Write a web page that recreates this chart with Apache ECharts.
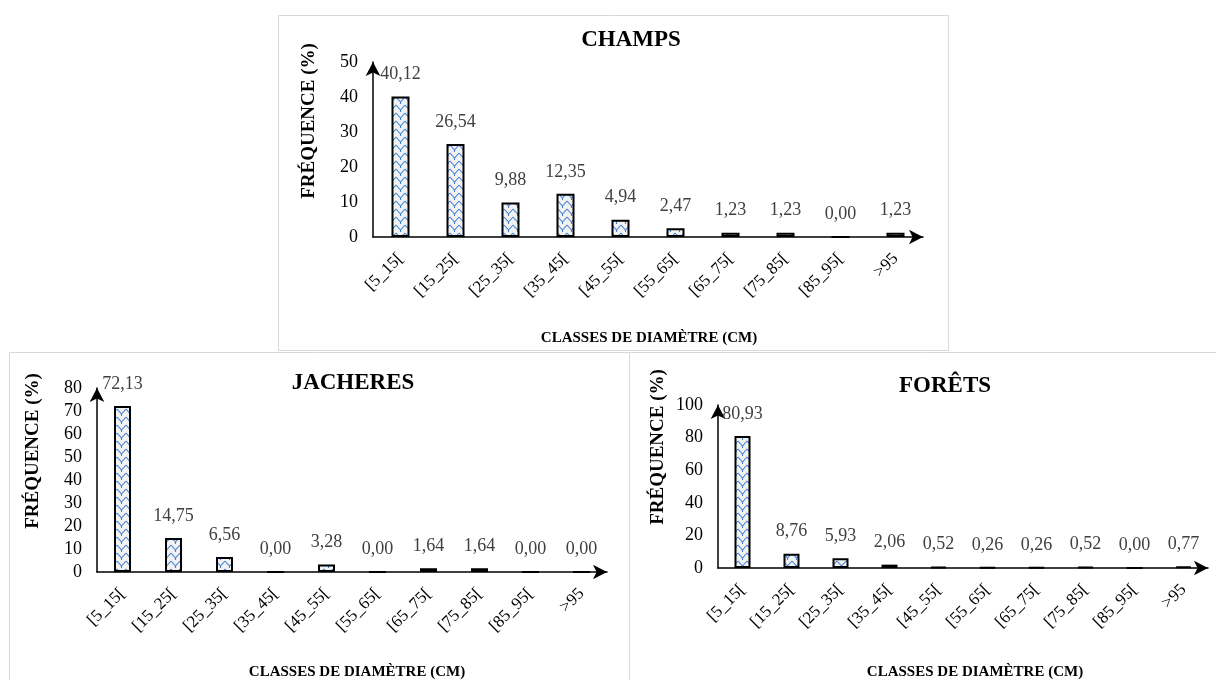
<!DOCTYPE html>
<html>
<head>
<meta charset="utf-8">
<script src="https://cdn.jsdelivr.net/npm/echarts@6/dist/echarts.min.js"></script>
<style>
  html, body { margin: 0; padding: 0; background: #ffffff; }
  #chart { width: 1216px; height: 680px; }
</style>
</head>
<body>
<div id="chart"></div>
<script>
// Diameter classes shared by the three panels
const classes = ['[5_15[', '[15_25[', '[25_35[', '[35_45[', '[45_55[', '[55_65[', '[65_75[', '[75_85[', '[85_95[', '>95'];

// Frequency (%) per diameter class
const champs   = [40.12, 26.54, 9.88, 12.35, 4.94, 2.47, 1.23, 1.23, 0.00, 1.23];
const jacheres = [72.13, 14.75, 6.56, 0.00, 3.28, 0.00, 1.64, 1.64, 0.00, 0.00];
const forets   = [80.93, 8.76, 5.93, 2.06, 0.52, 0.26, 0.26, 0.52, 0.00, 0.77];

const panelTitles = ['CHAMPS', 'JACHERES', 'FORÊTS'];
const yTitle = 'FRÉQUENCE (%)';
const xTitle = 'CLASSES DE DIAMÈTRE (CM)';

const FONT = '"Liberation Serif", "DejaVu Serif", serif';

// Light grey fill with a blue zigzag hatch
function hatch() {
  const c = document.createElement('canvas');
  c.width = 9; c.height = 8;
  const g = c.getContext('2d');
  g.fillStyle = '#f2f2f2';
  g.fillRect(0, 0, 9, 8);
  g.strokeStyle = '#3f7fd6';
  g.lineWidth = 1.1;
  g.beginPath();
  g.moveTo(0, 1);
  g.lineTo(4.5, 6);
  g.lineTo(9, 1);
  g.moveTo(4.5, 6);
  g.lineTo(4.5, 8);
  g.stroke();
  return { image: c, repeat: 'repeat' };
}
const fill = hatch();

// Panel layout
const grids = [
  { left: 373, top: 62, width: 550, height: 175 },
  { left: 97, top: 388, width: 510, height: 184 },
  { left: 718, top: 405, width: 490, height: 163 }
];
const yMax = [50, 80, 100];
const yStep = [10, 10, 20];
const barW = [18, 17, 16];
const dataSets = [champs, jacheres, forets];

// Text anchors for titles and axis names: [x, y] centres
const titlePos = [[631, 40], [353, 383], [945, 386]];
const yNamePos = [[309, 121], [33, 451], [658, 447]];
const xNamePos = [[649, 338], [357, 672], [975, 672]];

const axisLine = {
  show: true,
  symbol: ['none', 'arrow'],
  symbolSize: [11, 14],
  lineStyle: { color: '#000', width: 1.5 }
};

const panels = [
  [278.5, 15.5, 670, 335],
  [9.5, 352.5, 620, 340],
  [629.5, 352.5, 600, 340]
];

const graphics = [];
panels.forEach(p => graphics.push({
  type: 'rect', z: 0,
  shape: { x: p[0], y: p[1], width: p[2], height: p[3] },
  style: { fill: 'none', stroke: '#d9d9d9', lineWidth: 1 }
}));
yNamePos.forEach(p => graphics.push({
  type: 'text', x: p[0], y: p[1], rotation: Math.PI / 2,
  style: { text: yTitle, align: 'center', verticalAlign: 'middle', fill: '#000',
           font: 'bold 19px ' + FONT }
}));
xNamePos.forEach(p => graphics.push({
  type: 'text', x: p[0], y: p[1],
  style: { text: xTitle, align: 'center', verticalAlign: 'middle', fill: '#000',
           font: 'bold 15px ' + FONT }
}));

const option = {
  backgroundColor: '#ffffff',
  animation: false,
  title: panelTitles.map((t, i) => ({
    text: t,
    left: titlePos[i][0],
    top: titlePos[i][1] - 11.5,
    textAlign: 'center',
    padding: 0,
    textStyle: { fontFamily: FONT, fontWeight: 'bold', fontSize: 23, color: '#000' }
  })),
  graphic: graphics,
  grid: grids,
  xAxis: grids.map((g, i) => ({
    type: 'category',
    gridIndex: i,
    data: classes,
    boundaryGap: true,
    axisLine: axisLine,
    axisTick: { show: false },
    axisLabel: { interval: 0, rotate: 45, margin: 19, fontFamily: FONT, fontSize: 17, color: '#000' }
  })),
  yAxis: grids.map((g, i) => ({
    type: 'value',
    gridIndex: i,
    min: 0,
    max: yMax[i],
    interval: yStep[i],
    axisLine: axisLine,
    axisTick: { show: false },
    splitLine: { show: false },
    axisLabel: { margin: 15, fontFamily: FONT, fontSize: 18, color: '#000' }
  })),
  series: dataSets.map((d, i) => ({
    type: 'bar',
    xAxisIndex: i,
    yAxisIndex: i,
    data: d,
    barWidth: barW[i],
    itemStyle: { color: fill, borderColor: '#000', borderWidth: 2 },
    label: {
      show: true,
      position: 'top',
      distance: 13,
      fontFamily: FONT,
      fontSize: 18,
      color: '#404040',
      formatter: p => p.value.toFixed(2).replace('.', ',')
    }
  }))
};

const chart = echarts.init(document.getElementById('chart'), null, { renderer: 'canvas' });
chart.setOption(option);
</script>
</body>
</html>
